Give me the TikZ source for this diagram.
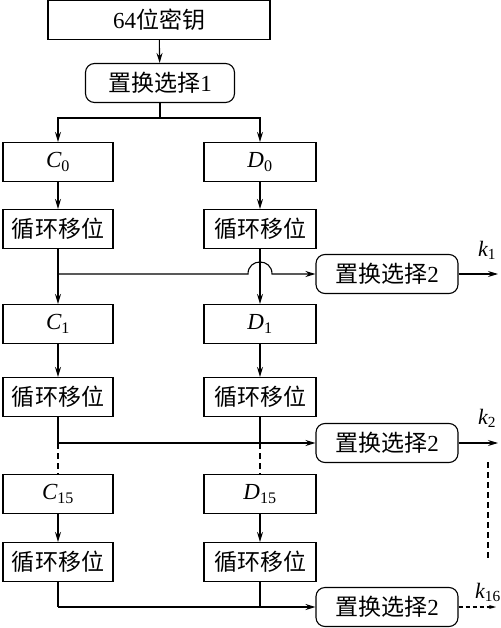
\documentclass[tikz,border=0pt]{standalone}
\usepackage{fontspec}
\setmainfont{Liberation Serif}
\newfontfamily\cjk{Noto Sans CJK SC}
\usetikzlibrary{arrows.meta,positioning}
\newcommand{\sym}[2]{{\itshape #1}\textsubscript{#2}}

\begin{document}
\begin{tikzpicture}[x=1pt,y=-1pt,line width=1.1pt,
    box/.style={draw,minimum height=39pt,inner sep=0pt,font=\fontsize{23}{27}\selectfont},
    rbox/.style={box,rounded corners=9pt,minimum width=142pt},
    lbox/.style={box,minimum width=110pt},
    dbox/.style={box,minimum width=112pt},
    klab/.style={font=\fontsize{22}{26}\selectfont},
    dashline/.style={dash pattern=on 6pt off 4pt},
    >={Stealth[length=10pt,width=6pt]}]
    \useasboundingbox (0,0) rectangle (500,628);
    % key and first permutation
    \node[box,minimum width=222pt] (key) at (159,20) {64{\cjk 位密钥}};
    \node[rbox,minimum width=149pt] (pc1) at (160,83) {{\cjk 置换选择}1};
    % left and right columns
    \node[lbox] (c0) at (58,162) {\sym{C}{0}};
    \node[dbox] (d0) at (260,162) {\sym{D}{0}};
    \node[lbox] (s0) at (58,229) {\cjk 循环移位};
    \node[dbox] (t0) at (260,229) {\cjk 循环移位};
    \node[lbox] (c1) at (58,324) {\sym{C}{1}};
    \node[dbox] (d1) at (260,324) {\sym{D}{1}};
    \node[lbox] (s1) at (58,397) {\cjk 循环移位};
    \node[dbox] (t1) at (260,397) {\cjk 循环移位};
    \node[lbox] (c15) at (58,494) {\sym{C}{15}};
    \node[dbox] (d15) at (260,494) {\sym{D}{15}};
    \node[lbox] (s15) at (58,562) {\cjk 循环移位};
    \node[dbox] (t15) at (260,562) {\cjk 循环移位};
    % second permutations
    \node[rbox] (p1) at (387,274) {{\cjk 置换选择}2};
    \node[rbox] (p2) at (387,443) {{\cjk 置换选择}2};
    \node[rbox] (p16) at (387,607) {{\cjk 置换选择}2};
    \node[klab] (k1) at (487,250) {\sym{k}{1}};
    \node[klab] (k2) at (487,418) {\sym{k}{2}};
    \node[klab] (k16) at (488,592) {\sym{k}{16}};
    \coordinate (b0) at (160,118);
    \coordinate (j0) at (58,274);
    \coordinate (h1) at (248,274);
    \coordinate (h2) at (272,274);
    \coordinate (j1) at (58,443);
    \coordinate (m1) at (260,443);
    \coordinate (j15) at (58,607);
    \coordinate (m15) at (260,607);
    \coordinate (o1) at (498,274);
    \coordinate (o2) at (498,443);
    \coordinate (o16) at (496,607);
    \coordinate (v1) at (488,462);
    \coordinate (v2) at (488,560);
    \draw [->] (key) -- (pc1);
    \draw (pc1) -- (b0);
    \draw [->] (b0) -| (c0);
    \draw [->] (b0) -| (d0);
    \draw [->] (c0) -- (s0);
    \draw [->] (d0) -- (t0);
    \draw (s0) -- (j0);
    \draw [->] (j0) -- (c1);
    \draw [->] (j0) -- (h1) .. controls (248,258) and (272,258) .. (h2) -- (p1);
    \draw [->] (t0) -- (d1);
    \draw [->] (p1) -- (o1);
    \draw [->] (c1) -- (s1);
    \draw [->] (d1) -- (t1);
    \draw (s1) -- (j1);
    \draw (t1) -- (m1);
    \draw [->] (j1) -- (p2);
    \draw [->] (p2) -- (o2);
    \draw [dashline] (j1) -- (c15);
    \draw [dashline] (m1) -- (d15);
    \draw [dashline] (v1) -- (v2);
    \draw [->] (c15) -- (s15);
    \draw [->] (d15) -- (t15);
    \draw (s15) -- (j15);
    \draw (t15) -- (m15);
    \draw [->] (j15) -- (p16);
    \draw [->,dash pattern=on 4pt off 3pt,>={Stealth[length=7pt,width=4pt]}] (p16) -- (o16);
\end{tikzpicture}
\end{document}
